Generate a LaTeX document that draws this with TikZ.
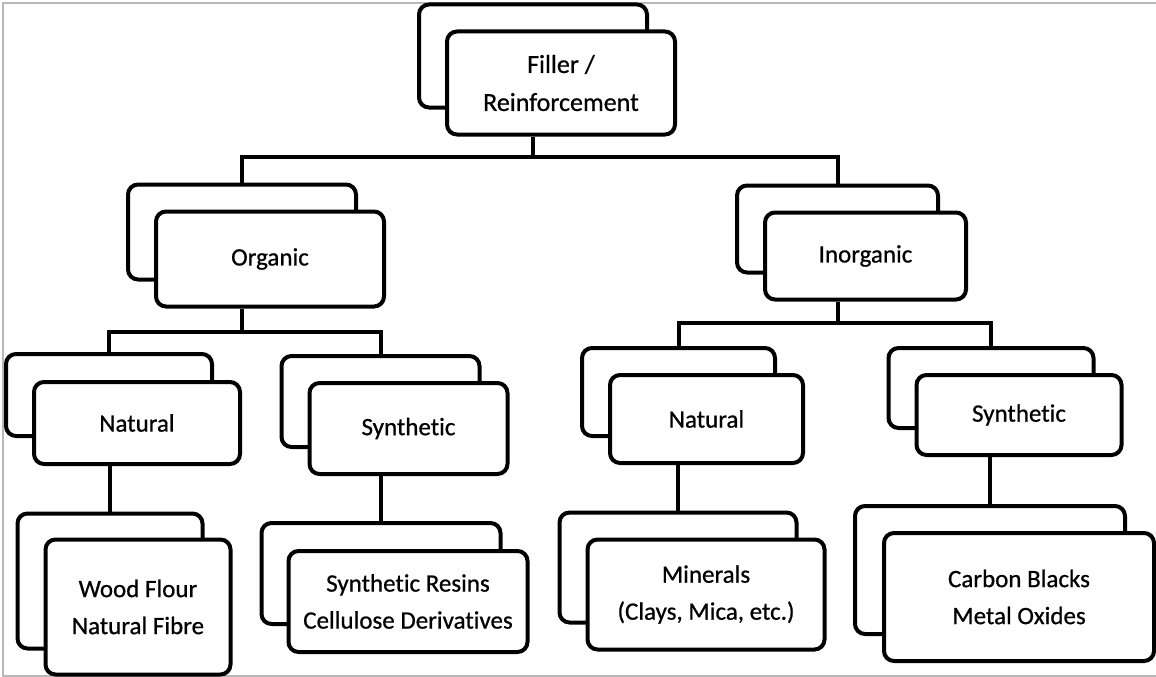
\documentclass[tikz,border=0pt]{standalone}
\usepackage{fontspec}
\setmainfont{Carlito}[FakeBold=0.7, Ligatures=NoCommon]

\begin{document}
\begin{tikzpicture}[
    x=1pt, y=-1pt,
    font=\fontsize{25}{37}\selectfont,
    back/.style={draw, line width=4pt, rounded corners=10pt, fill=white, inner sep=0pt},
    front/.style={back, align=center},
    link/.style={line width=4pt}
  ]
  \useasboundingbox (0,0) rectangle (1156,677);

  % --- Frame ---
  \draw[black!28, line width=1.2pt] (1156,3) -- (3,3) -- (3,676) -- (1156,676);

  % --- Top level ---
  \node[back, minimum width=228pt, minimum height=103pt] (fillb) at (533,56) {};
  \node[front, minimum width=228pt, minimum height=103pt, font=\fontsize{26}{38}\selectfont]
    (fill) at ([shift={(28,27)}]fillb.center) {Filler /\\Reinforcement};

  % --- Organic / Inorganic ---
  \node[back, minimum width=228pt, minimum height=95pt] (orgb) at (242,232) {};
  \node[front, minimum width=228pt, minimum height=95pt] (org) at ([shift={(28,27)}]orgb.center) {Organic};

  \node[back, minimum width=201pt, minimum height=87pt] (inorgb) at (837.5,229) {};
  \node[front, minimum width=201pt, minimum height=87pt] (inorg) at ([shift={(28,27)}]inorgb.center) {Inorganic};

  % --- Natural / Synthetic ---
  \node[back, minimum width=206pt, minimum height=82pt] (onatb) at (109,395) {};
  \node[front, minimum width=206pt, minimum height=82pt] (onat) at ([shift={(28,28)}]onatb.center) {Natural};

  \node[back, minimum width=198pt, minimum height=91pt] (osynb) at (380.5,401.5) {};
  \node[front, minimum width=198pt, minimum height=91pt] (osyn) at ([shift={(28,27)}]osynb.center) {Synthetic};

  \node[back, minimum width=193pt, minimum height=88pt] (inatb) at (678.5,392) {};
  \node[front, minimum width=193pt, minimum height=88pt] (inat) at ([shift={(28,27)}]inatb.center) {Natural};

  \node[back, minimum width=205pt, minimum height=80pt] (isynb) at (991,388) {};
  \node[front, minimum width=205pt, minimum height=80pt] (isyn) at ([shift={(28,27)}]isynb.center) {Synthetic};

  % --- Examples ---
  \node[back, minimum width=185pt, minimum height=135pt] (woodb) at (110,581) {};
  \node[front, minimum width=185pt, minimum height=135pt] (wood) at ([shift={(28,26)}]woodb.center) {Wood Flour\\Natural Fibre};

  \node[back, minimum width=239pt, minimum height=101pt] (resinb) at (381,573.5) {};
  \node[front, minimum width=239pt, minimum height=101pt] (resin) at ([shift={(27,28)}]resinb.center) {Synthetic Resins\\Cellulose Derivatives};

  \node[back, minimum width=237pt, minimum height=110pt] (mineralb) at (678,567.5) {};
  \node[front, minimum width=237pt, minimum height=110pt] (mineral) at ([shift={(28,27)}]mineralb.center) {Minerals\\(Clays, Mica, etc.)};

  \node[back, minimum width=270pt, minimum height=128pt] (carbonb) at (990,570) {};
  \node[front, minimum width=270pt, minimum height=128pt] (carbon) at ([shift={(29,27)}]carbonb.center) {Carbon Blacks\\Metal Oxides};

  % --- Connectors ---
  \coordinate (bar1) at (533,157);
  \coordinate (bar2) at (242,332);
  \coordinate (bar3) at (837.5,323);

  \draw[link] (fill.south -| fillb) -- (bar1);
  \draw[link] (orgb.north) |- (bar1) -| (inorgb.north);
  \draw[link] (org.south -| orgb) -- (bar2);
  \draw[link] (onatb.north) |- (bar2) -| (osynb.north);
  \draw[link] (inorg.south -| inorgb) -- (bar3);
  \draw[link] (inatb.north) |- (bar3) -| (isynb.north);

  \foreach \up/\down in {onat/woodb, osyn/resinb, inat/mineralb, isyn/carbonb}
    \draw[link] (\up.south -| \down.north) -- (\down.north);

\end{tikzpicture}
\end{document}
